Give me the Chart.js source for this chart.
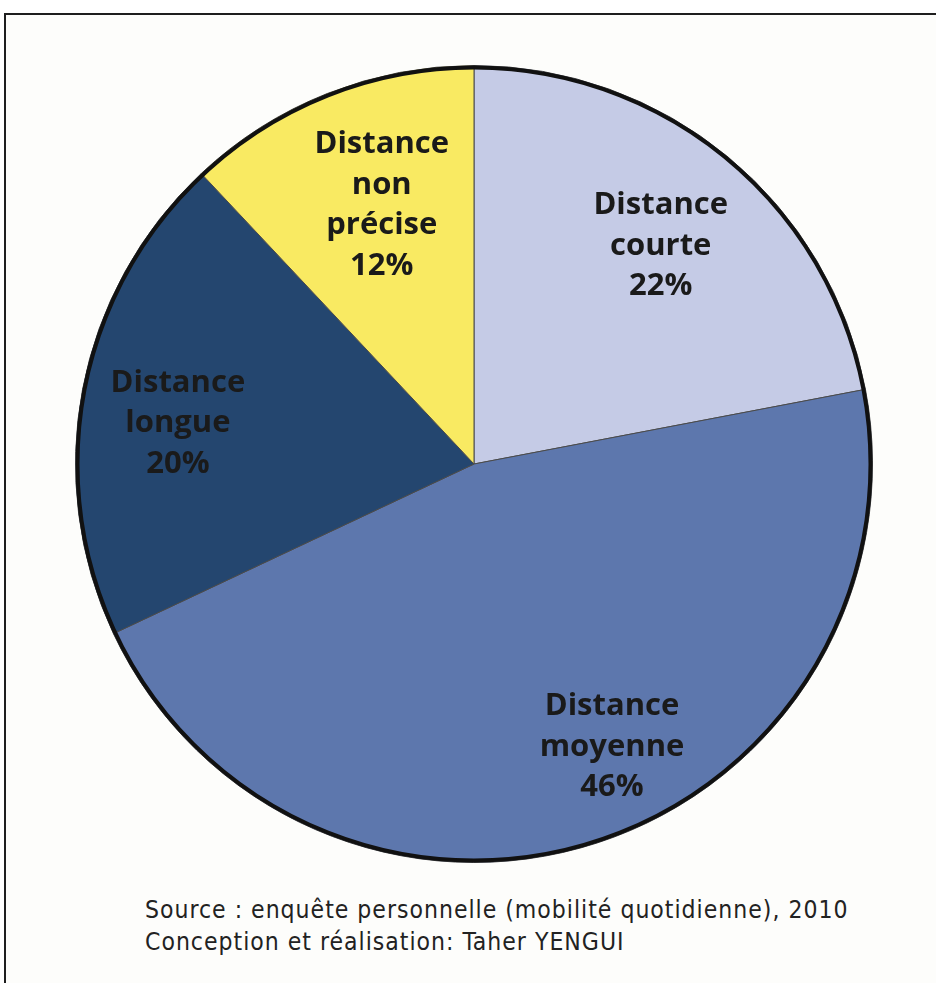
<!DOCTYPE html>
<html>
<head>
<meta charset="utf-8">
<script src="https://cdn.jsdelivr.net/npm/chart.js@4"></script>
<style>
    html, body { margin: 0; padding: 0; background: #ffffff; }
    body { width: 936px; height: 983px; position: relative; overflow: hidden; }
    #frame {
        position: absolute; left: 4px; top: 13px; width: 960px; height: 1000px;
        border-top: 2px solid #1e1e1e; border-left: 2px solid #1e1e1e;
        background: #fdfdfb;
    }
    #wrap { position: absolute; left: 75px; top: 65px; width: 798px; height: 798px; }
    .source {
        position: absolute; left: 145px; font-family: "DejaVu Sans Condensed", "DejaVu Sans", sans-serif;
        font-stretch: condensed; font-size: 24.5px; letter-spacing: 1px; line-height: 32px;
        color: #222; white-space: nowrap;
    }
</style>
</head>
<body>
<div id="frame"></div>
<div id="wrap"><canvas id="pie"></canvas></div>
<div class="source" style="top: 894px;">Source : enquête personnelle (mobilité quotidienne), 2010</div>
<div class="source" style="top: 926px;">Conception et réalisation: Taher YENGUI</div>
<script>
(() => {
    const labels = ['Distance courte', 'Distance moyenne', 'Distance longue', 'Distance non précise'];
    const percents = [22, 46, 20, 12];
    const label_lines = [
        ['Distance', 'courte', '22%'],
        ['Distance', 'moyenne', '46%'],
        ['Distance', 'longue', '20%'],
        ['Distance', 'non', 'précise', '12%'],
    ];
    const colors = ['#c5cbe6', '#5d77ad', '#24466f', '#f9ea62'];

    // label placement: angle shift (deg) from slice middle, radius fraction
    const label_pos = [
        { da: 1, r: 0.72 },
        { da: -8, r: 0.79 },
        { da: -3, r: 0.75 },
        { da: 2, r: 0.69 },
    ];

    const slice_labels = {
        id: 'slice_labels',
        afterDatasetsDraw(chart) {
            const ctx = chart.ctx;
            const arcs = chart.getDatasetMeta(0).data;

            // thick outer rim
            const a0 = arcs[0];
            ctx.save();
            ctx.beginPath();
            ctx.arc(a0.x, a0.y, a0.outerRadius - 2, 0, Math.PI * 2);
            ctx.lineWidth = 4;
            ctx.strokeStyle = '#111';
            ctx.stroke();

            ctx.font = 'bold 31px "Open Sans"';
            ctx.fillStyle = '#1a1a1a';
            ctx.textAlign = 'center';
            ctx.textBaseline = 'middle';
            const lh = 40.5;
            arcs.forEach((arc, i) => {
                const mid = (arc.startAngle + arc.endAngle) / 2 + label_pos[i].da * Math.PI / 180;
                const r = arc.outerRadius * label_pos[i].r;
                const x = arc.x + Math.cos(mid) * r;
                const y = arc.y + Math.sin(mid) * r;
                const lines = label_lines[i];
                lines.forEach((t, k) => {
                    ctx.fillText(t, x, y + (k - (lines.length - 1) / 2) * lh);
                });
            });
            ctx.restore();
        }
    };

    new Chart(document.getElementById('pie'), {
        type: 'pie',
        data: {
            labels,
            datasets: [{
                data: percents,
                backgroundColor: colors,
                borderColor: '#4a4a4a',
                borderWidth: 1,
            }]
        },
        options: {
            responsive: true,
            maintainAspectRatio: false,
            animation: false,
            layout: { padding: 0 },
            plugins: {
                legend: { display: false },
                tooltip: { enabled: false }
            }
        },
        plugins: [slice_labels]
    });
})();
</script>
</body>
</html>
